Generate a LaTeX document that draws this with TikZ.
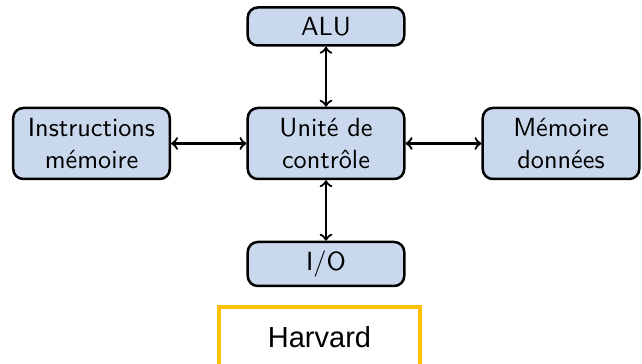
\documentclass[tikz,border=0pt]{standalone}
\usepackage{fontspec}
\newfontfamily\harvardfont{Liberation Sans}
\usetikzlibrary{positioning}

\tikzstyle{unit-box}=[draw, line width=1pt, rounded corners=4pt, fill={UnitBlue}, minimum width=62.6pt, inner sep=0pt, align=center, font=\sffamily\fontsize{10.5}{12.6}\selectfont]
\tikzstyle{unit-link}=[<->, line width=0.9pt]
\definecolor{UnitBlue}{RGB}{201,216,236}
\definecolor{TitleYellow}{HTML}{FFC000}

\begin{document}
\begin{tikzpicture}[x=0.4pt,y=-0.4pt]
      \useasboundingbox (0,0) rectangle (642,364);
      \node (box-alu) at (326,26.5) [unit-box, minimum height=15.2pt] {ALU};
      \node (box-ctrl) at (326,143.5) [unit-box, minimum height=28.4pt] {Unité de\\contrôle};
      \node (box-instr) at (91.5,143.5) [unit-box, minimum height=28.4pt] {Instructions\\mémoire};
      \node (box-data) at (561,143.5) [unit-box, minimum height=28.4pt] {Mémoire\\données};
      \node (box-io) at (326,264) [unit-box, minimum height=17.6pt] {I/O};

      \node (title-harvard) at (319.5,337) [draw={TitleYellow}, line width=1.4pt, minimum width=80.4pt, minimum height=24pt, font=\harvardfont\fontsize{11.6}{14}\selectfont] {Harvard};

      \draw[unit-link] (box-alu) -- (box-ctrl);
      \draw[unit-link] (box-ctrl) -- (box-io);
      \draw[unit-link] (box-instr) -- (box-ctrl);
      \draw[unit-link] (box-ctrl) -- (box-data);
    \end{tikzpicture}
\end{document}
